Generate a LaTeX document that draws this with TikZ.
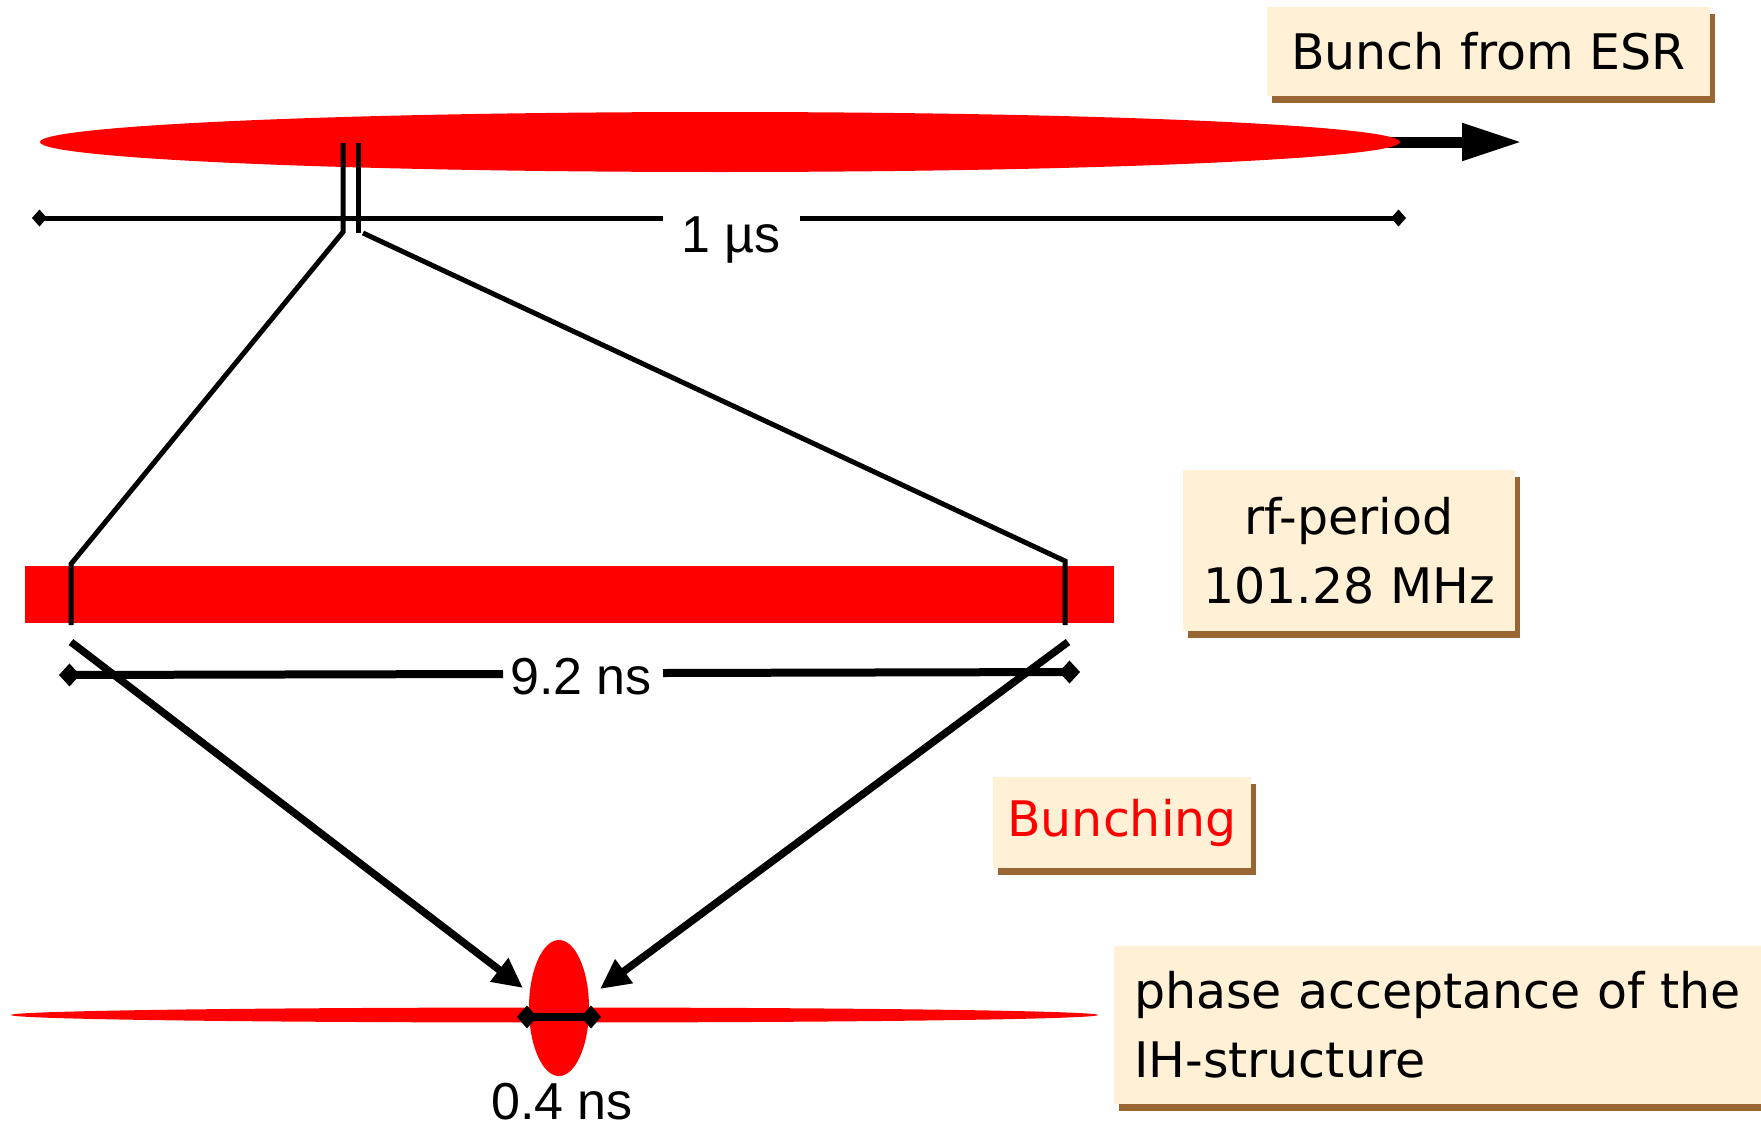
\documentclass[tikz,border=0pt]{standalone}
\usepackage{fontspec}
\setmainfont{DejaVu Sans}
\newfontfamily\arialfont{Liberation Sans}
\usetikzlibrary{arrows.meta,shadows}
\definecolor{notefill}{RGB}{255,240,214}
\definecolor{noteshadow}{RGB}{153,102,51}
\definecolor{beamred}{RGB}{255,0,0}

\tikzset{
  note/.style={fill=notefill, inner sep=0pt, align=center,
    font=\fontsize{49}{69}\selectfont,
    drop shadow={fill=noteshadow, opacity=1, shadow xshift=5pt, shadow yshift=-7pt}},
  dimtext/.style={font=\arialfont\fontsize{52}{60}\selectfont, inner sep=0pt, anchor=base},
  guide/.style={line width=5pt, line join=miter},
  converge/.style={line width=7.5pt, -{Triangle[length=30pt,width=28pt]}},
  smalldim/.style={line width=5pt},
  bigdim/.style={line width=8pt},
  smalltip/.tip={Turned Square[length=15pt,width=17pt]},
  bigtip/.tip={Turned Square[length=21pt,width=23pt]},
}

\begin{document}
\begin{tikzpicture}[x=1pt,y=-1pt]
\fill[white] (0,0) rectangle (1761,1127);
\clip (0,0) rectangle (1761,1127);

% ---- bunch coming from the ESR ----
\coordinate (esrstart) at (1300,142);
\coordinate (esrtip) at (1522,142);
\draw[line width=11pt, -{Triangle[length=60pt,width=35pt]}] (esrstart) -- (esrtip);
\fill[beamred] (720,142) ellipse [x radius=680pt, y radius=30pt];

% ---- 1 us length of the bunch ----
\coordinate (usL) at (32,218);
\coordinate (usgapL) at (663,218);
\coordinate (usgapR) at (800,218);
\coordinate (usR) at (1406,218);
\draw[smalldim, smalltip-] (usL) -- (usgapL);
\draw[smalldim, -smalltip] (usgapR) -- (usR);
\node[dimtext] (ustext) at (731,252) {1 µs};

% ---- one rf period, magnified ----
\fill[beamred] (25,566) rectangle (1114,623);

\coordinate (tickLtop) at (343,143);
\coordinate (tickLbot) at (343,232);
\coordinate (barL) at (71,564);
\coordinate (barLbot) at (71,625);
\coordinate (tickRtop) at (358,143);
\coordinate (tickRbot) at (358,233);
\coordinate (slantR) at (363,233);
\coordinate (barR) at (1065,561);
\coordinate (barRbot) at (1065,625);
\draw[guide] (tickLtop) -- (tickLbot) -- (barL) -- (barLbot);
\draw[guide] (tickRtop) -- (tickRbot);
\draw[guide] (slantR) -- (barR) -- (barRbot);

% ---- 9.2 ns ----
\coordinate (nsL) at (59,675);
\coordinate (nsgapL) at (503,674);
\coordinate (nsgapR) at (663,673);
\coordinate (nsR) at (1080,672);
\draw[bigdim, bigtip-] (nsL) -- (nsgapL);
\draw[bigdim, -bigtip] (nsgapR) -- (nsR);
\node[dimtext] (nstext) at (581,694) {9.2 ns};

% ---- bunching onto the phase acceptance ----
\coordinate (convL) at (71,642);
\coordinate (convLtip) at (523,988);
\coordinate (convR) at (1068,642);
\coordinate (convRtip) at (600,989);
\draw[converge] (convL) -- (convLtip);
\draw[converge] (convR) -- (convRtip);

\fill[beamred] (554.5,1015) ellipse [x radius=543.5pt, y radius=7.5pt];
\fill[beamred] (559,1008) ellipse [x radius=30pt, y radius=68pt];
\coordinate (accL) at (517,1017);
\coordinate (accR) at (601,1017);
\draw[bigdim, {Turned Square[length=20pt,width=23pt]}-{Turned Square[length=20pt,width=23pt]}] (accL) -- (accR);
\node[dimtext] (acctext) at (562,1119) {0.4 ns};

% ---- notes ----
\node[note, minimum width=443pt, minimum height=89pt] (esrnote) at (1488.5,51) {Bunch from ESR};
\node[note, minimum width=332pt, minimum height=161pt] (rfnote) at (1349,550.5) {rf-period\\101.28 MHz};
\node[note, minimum width=258pt, minimum height=91pt, text=beamred] (bunchnote) at (1122,822.5) {Bunching};
\node[note, minimum width=680pt, minimum height=158pt, text width=640pt, inner xsep=20pt, align=left] (phasenote) at (1454,1025) {phase acceptance of the\\IH-structure};
\end{tikzpicture}
\end{document}
